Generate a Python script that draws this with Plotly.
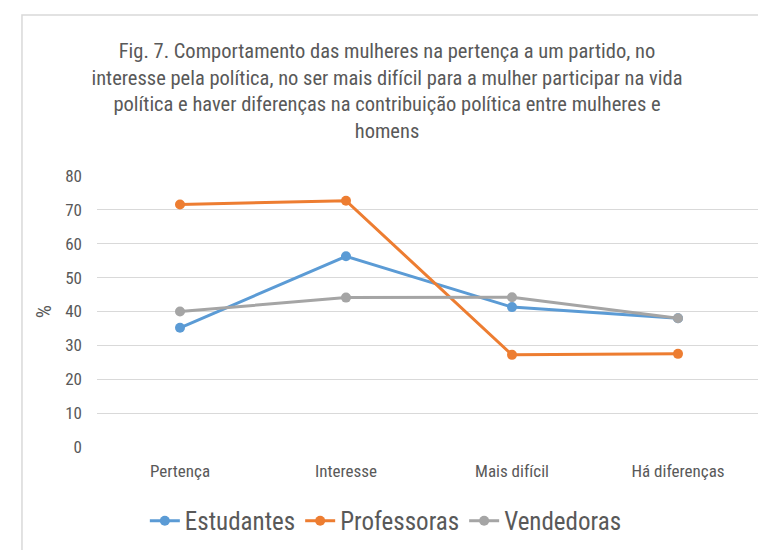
import plotly.graph_objects as go

categories = ["Pertença", "Interesse", "Mais difícil", "Há diferenças"]
estudantes = [35.2, 56.3, 41.3, 38.0]
professoras = [71.6, 72.7, 27.2, 27.5]
vendedoras = [40.0, 44.1, 44.2, 38.0]
y_ticks = [0, 10, 20, 30, 40, 50, 60, 70, 80]

title_text = ("Fig. 7. Comportamento das mulheres na pertença a um partido, no<br>"
              "interesse pela política, no ser mais difícil para a mulher participar na vida<br>"
              "política e haver diferenças na contribuição política entre mulheres e<br>"
              "homens")

FONT = "Liberation Sans Narrow, Roboto Condensed, Open Sans, sans-serif"
TXT = "#595959"

fig = go.Figure()
for name, vals, col in [("Estudantes", estudantes, "#5B9BD5"),
                        ("Professoras", professoras, "#ED7D31"),
                        ("Vendedoras", vendedoras, "#A5A5A5")]:
    fig.add_trace(go.Scatter(x=categories, y=vals, name=name, mode="lines+markers",
                             line=dict(color=col, width=3),
                             marker=dict(color=col, size=10, symbol="circle")))

fig.update_layout(
    width=758, height=542,
    margin=dict(l=89, r=5, t=168, b=103),
    paper_bgcolor="white", plot_bgcolor="white",
    font=dict(family=FONT, color=TXT),
    title=dict(text=title_text, x=0.5, xanchor="center", xref="container",
               y=1 - 50/542, yanchor="top",
               font=dict(size=20.5, family=FONT, color=TXT)),
    xaxis=dict(range=[-0.5, 3.5], showgrid=False, showline=False, zeroline=False, ticks="",
               tickfont=dict(size=17, color=TXT), ticklabelstandoff=12),
    yaxis=dict(range=[0, 80], tickvals=y_ticks, showgrid=True, gridcolor="#d9d9d9",
               gridwidth=1, zeroline=False, showline=False, ticks="",
               tickfont=dict(size=17, color=TXT), ticklabelstandoff=14,
               title=dict(text="%", font=dict(size=21, color=TXT), standoff=7)),
    legend=dict(orientation="h", x=0.435, xanchor="center", y=-0.273, yanchor="middle",
                font=dict(size=25, color=TXT), itemwidth=30, tracegroupgap=0),
    showlegend=True,
)

fig.add_shape(type="rect", xref="paper", yref="paper",
              x0=-0.113, x1=1.2, y0=-0.5, y1=1.594,
              line=dict(color="#d9d9d9", width=1.5), layer="below")

fig.write_html("out.html")
